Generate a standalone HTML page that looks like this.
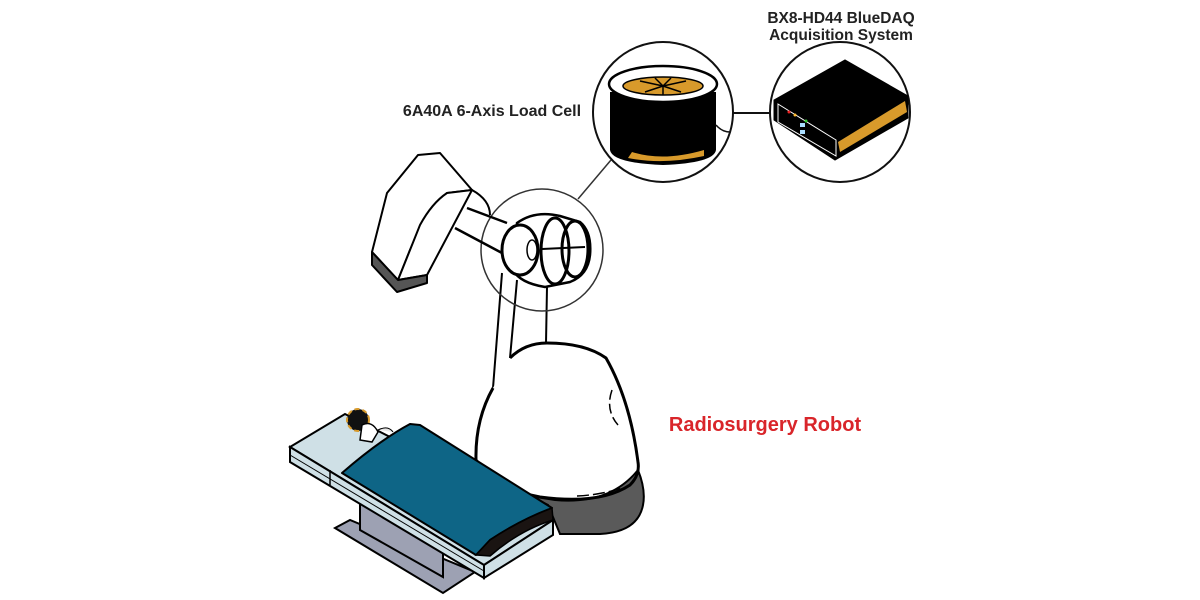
<!DOCTYPE html>
<html><head><meta charset="utf-8"><style>
html,body{margin:0;padding:0;background:#fff;width:1200px;height:600px;overflow:hidden}
svg{display:block}
text{font-family:"Liberation Sans",sans-serif;font-weight:bold}
</style></head><body>
<svg width="1200" height="600" viewBox="0 0 1200 600" xmlns="http://www.w3.org/2000/svg">
<text x="492" y="116" font-size="16" text-anchor="middle" fill="#222">6A40A 6-Axis Load Cell</text>
<text x="841" y="23" font-size="15.5" text-anchor="middle" fill="#222">BX8-HD44 BlueDAQ</text>
<text x="841" y="40" font-size="15.5" text-anchor="middle" fill="#222">Acquisition System</text>
<text x="765" y="431" font-size="20" text-anchor="middle" fill="#d9252a">Radiosurgery Robot</text>

<line x1="611" y1="160" x2="578" y2="199" stroke="#333" stroke-width="1.5"/>
<line x1="730" y1="113" x2="771" y2="113" stroke="#111" stroke-width="2"/>

<circle cx="663" cy="112" r="70" fill="#fff" stroke="#111" stroke-width="2"/>
<path d="M610 92 L610 150 Q612 163 663 165 Q714 163 716 150 L716 92 Z" fill="#000"/>
<path d="M632 152 Q663 162 704 150 L704 156 Q663 165 628 158 Z" fill="#d89a2b"/>
<ellipse cx="663" cy="84" rx="54" ry="18" fill="#fff" stroke="#000" stroke-width="2.5"/>
<ellipse cx="663" cy="86" rx="40" ry="9" fill="#d89a2b" stroke="#000" stroke-width="1.5"/>
<path d="M663 86 L640 81 M663 86 L686 81 M663 86 L645 92 M663 86 L681 92 M663 86 L655 78 M663 86 L671 78 M663 86 L663 95" stroke="#000" stroke-width="1.5"/>
<path d="M716 125 Q722 132 730 132" stroke="#111" stroke-width="1.5" fill="none"/>

<circle cx="840" cy="112" r="70" fill="#fff" stroke="#111" stroke-width="2"/>
<polygon points="774,100 845,60 908,96 908,118 835,160 774,120" fill="#000" stroke="#000" stroke-width="1"/>
<polygon points="838,142 905,101 907,112 840,152" fill="#d89a2b"/>
<path d="M778 104 L836 140 L836 156 L778 122 Z" fill="#000" stroke="#fff" stroke-width="1"/>
<circle cx="789" cy="112" r="1.5" fill="#e22"/><circle cx="795" cy="115" r="1.5" fill="#fb3"/><circle cx="806" cy="121" r="1.5" fill="#3c3"/>
<rect x="800" y="123" width="5" height="4" fill="#adf"/><rect x="800" y="130" width="5" height="4" fill="#adf"/>

<path d="M372 252 L387 193 L418 155 L440 153 L472 190 L447 193 Q425 215 410 250 L398 280 Z" fill="#fff" stroke="#000" stroke-width="2" stroke-linejoin="round"/>
<path d="M447 193 L472 190 L427 275 L398 280 Q410 250 420 225 Q432 203 447 193 Z" fill="#fff" stroke="#000" stroke-width="2" stroke-linejoin="round"/>
<path d="M372 252 L372 265 L397 292 L427 283 L427 275 L398 280 Z" fill="#555" stroke="#000" stroke-width="2" stroke-linejoin="round"/>
<path d="M472 190 Q490 200 490 215" fill="none" stroke="#000" stroke-width="2"/>

<path d="M502 273 L493 388 M517 280 L510 358 M547 287 L546 343" stroke="#000" stroke-width="2"/>

<path d="M510 358 Q525 343 547 343 Q585 343 606 358 Q630 400 639 460 Q645 490 640 500 Q635 530 600 533 L555 533 L540 500 Q500 490 478 470 Q472 420 493 388 Z" fill="#fff"/>
<path d="M530 496 L555 500 Q610 505 638 470 Q646 490 643 505 Q638 532 600 534 L560 534 L548 505 Z" fill="#5a5a5a" stroke="#000" stroke-width="2"/>
<path d="M493 388 Q475 420 476 460 Q500 490 540 497 Q600 505 630 485 Q640 475 638 462 Q630 400 606 358 Q585 343 547 343 Q525 343 510 358" fill="none" stroke="#000" stroke-width="3"/>
<path d="M612 390 Q605 410 618 425" fill="none" stroke="#000" stroke-width="1.5" stroke-dasharray="10 4"/>
<path d="M577 496 Q600 495 622 488" fill="none" stroke="#000" stroke-width="1.5" stroke-dasharray="12 4"/>

<circle cx="542" cy="250" r="61" fill="none" stroke="#333" stroke-width="1.5"/>
<path d="M517 223 Q535 210 560 216 L580 222 Q592 232 590 255 Q588 275 570 282 L545 287 Q520 283 513 270 Z" fill="#fff" stroke="#000" stroke-width="2.5"/>
<ellipse cx="555" cy="251" rx="14" ry="33" fill="#fff" stroke="#000" stroke-width="3"/>
<ellipse cx="575" cy="249" rx="13" ry="28" fill="none" stroke="#000" stroke-width="3"/>
<path d="M542 249 L585 247" stroke="#000" stroke-width="2"/>
<ellipse cx="520" cy="250" rx="18" ry="25" fill="#fff" stroke="#000" stroke-width="3"/>
<ellipse cx="532" cy="250" rx="5" ry="10" fill="#fff" stroke="#000" stroke-width="1.5"/>
<path d="M467 208 L507 223 M455 228 L502 253" stroke="#000" stroke-width="2.5"/>

<polygon points="335,528 350,520 475,572 443,593" fill="#9da1b3" stroke="#000" stroke-width="2"/>
<polygon points="360,500 360,530 443,577 443,545" fill="#9da1b3" stroke="#000" stroke-width="2"/>
<polygon points="290,447 345,414 553,520 484,565" fill="#cfe0e6" stroke="#000" stroke-width="2"/>
<polygon points="290,447 484,565 484,578 290,462" fill="#cfe0e6" stroke="#000" stroke-width="2"/>
<polygon points="484,565 553,520 553,535 484,578" fill="#cfe0e6" stroke="#000" stroke-width="2"/>
<line x1="290" y1="455" x2="484" y2="571" stroke="#000" stroke-width="1"/>
<line x1="330" y1="470" x2="330" y2="485" stroke="#000" stroke-width="1.5"/>
<circle cx="358" cy="420" r="11" fill="#111" stroke="#d89a2b" stroke-width="2" stroke-dasharray="5 3"/>
<path d="M362 425 Q372 420 378 432 L372 442 L360 440 Z" fill="#fff" stroke="#000" stroke-width="1.5"/>
<path d="M378 430 Q388 425 393 432" fill="#e8e8e8" stroke="#000" stroke-width="1"/>
<path d="M342 473 Q380 440 410 424 L420 425 L552 508 Q520 520 490 540 L476 555 Z" fill="#0e6586" stroke="#000" stroke-width="2" stroke-linejoin="round"/>
<path d="M552 508 Q520 520 490 540 L476 555 L490 556 Q520 530 553 520 Z" fill="#1a1412" stroke="#000" stroke-width="1.5"/>
</svg>
</body></html>
